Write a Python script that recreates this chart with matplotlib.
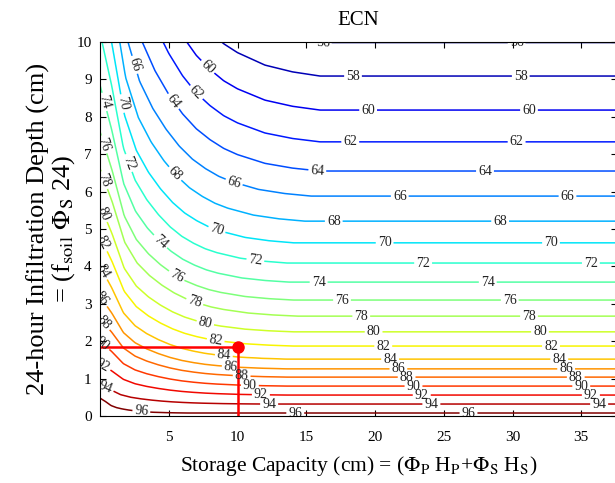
import numpy as np
import matplotlib
matplotlib.use('Agg')
import matplotlib.pyplot as plt

plt.rcParams['font.family'] = 'Liberation Serif'
plt.rcParams['mathtext.fontset'] = 'stix'

# one entry per contour (bottom to top)
ecn_levels = [98, 96, 94, 92, 90, 88, 86, 84, 82, 80, 78, 76, 74, 72, 70, 68, 66, 64, 62, 60, 58, 56, 54]
# height (cm) where the contour runs flat at large storage
flat_height = [-0.15, 0.08, 0.32, 0.56, 0.80, 1.04, 1.26, 1.52, 1.87, 2.25, 2.67, 3.10, 3.58,
               4.09, 4.63, 5.21, 5.88, 6.55, 7.33, 8.18, 9.09, 9.985, 11.0]
# height (cm) where the contour meets zero storage (above 10 = off the chart, estimated)
edge_height = [-0.10, 0.48, 0.82, 1.40, 2.00, 2.60, 3.20, 4.00, 4.80, 5.65, 6.62, 7.60, 8.85,
               10.25, 11.5, 12.9, 14.4, 16.3, 18.6, 20.8, 23.0, 25.3, 28.0]
# how quickly the contour levels off (1 = slowest, smaller = levels off sooner)
flatten_speed = [0.4, 0.4, 0.75, 0.85, 0.85, 0.85, 0.85, 0.85, 0.88, 0.88, 0.9, 0.88, 0.86,
                 0.85, 0.88, 0.93, 0.96, 1, 1, 1, 1, 1, 1]

# share of the rise still left at each storage capacity
storage_cols = [0, 1, 2, 3, 4, 5, 6, 7, 8, 9, 10, 12, 14, 16, 38]
rise_left = [1.0, 0.77, 0.50, 0.36, 0.275, 0.21, 0.157, 0.116, 0.086, 0.062, 0.045, 0.021, 0.008, 0.0, 0.0]

# design point
point_x = 10
point_y = 1.85

# build the ECN surface from the read tables, column by column
flat = np.array(flat_height)
edge = np.array(edge_height)
speed = np.array(flatten_speed)
xg = np.linspace(0, 37.6, 500)
yg = np.linspace(0, 10.6, 530)
H = flat[:, None] + (edge - flat)[:, None] * np.interp(xg[None, :] / speed[:, None], storage_cols, rise_left)
Z = np.empty((len(yg), len(xg)))
for j in range(len(xg)):
    Z[:, j] = np.interp(yg, H[:, j], ecn_levels)
X, Y = np.meshgrid(xg, yg)

fig = plt.figure(figsize=(6.15, 4.83), dpi=100)
ax = fig.add_axes([100 / 615, 67 / 483, 517 / 615, 374 / 483])

cs = ax.contour(X, Y, Z, levels=np.arange(56, 97, 2), cmap='jet', vmin=56, vmax=96, linewidths=1.1)

label_pts = [
    (16.2, 10.0), (30.3, 10.0),
    (18.4, 9.09), (30.6, 9.09),
    (7.9, 9.36), (19.5, 8.18), (31.2, 8.18),
    (7.06, 8.67), (18.2, 7.33), (30.3, 7.33),
    (5.47, 8.45), (15.8, 6.55), (28.0, 6.55),
    (2.6, 9.4), (9.73, 6.22), (21.8, 5.88), (34.0, 5.88),
    (5.6, 6.53), (17.0, 5.21), (29.1, 5.21),
    (1.7, 8.36), (8.6, 5.1), (20.7, 4.63), (32.8, 4.63),
    (2.07, 6.76), (11.3, 4.17), (23.5, 4.09), (35.7, 4.09),
    (0.34, 8.4), (4.38, 4.66), (15.9, 3.58), (28.2, 3.58),
    (0.2, 7.25), (5.6, 3.77), (17.6, 3.10), (29.8, 3.10),
    (0.34, 6.31), (6.93, 3.1), (19.0, 2.67), (31.2, 2.67),
    (0.34, 5.43), (7.66, 2.49), (19.9, 2.25), (32.0, 2.25),
    (0.34, 4.65), (8.4, 1.99), (20.6, 1.87), (32.8, 1.87),
    (0.34, 3.9), (9.0, 1.59), (21.1, 1.52), (33.4, 1.52),
    (0.2, 3.15), (9.5, 1.28), (21.7, 1.26), (33.9, 1.26),
    (0.3, 2.5), (10.3, 1.04), (22.3, 1.04), (34.6, 1.04),
    (0.2, 1.95), (10.9, 0.80), (22.8, 0.80), (35.0, 0.80),
    (0.2, 1.36), (11.7, 0.56), (23.4, 0.56), (35.7, 0.56),
    (0.4, 0.78), (12.3, 0.32), (24.1, 0.32), (36.3, 0.32),
    (3.0, 0.1), (14.2, 0.08), (26.8, 0.08),
]
labels = ax.clabel(cs, fmt='%d', manual=label_pts, inline=True, inline_spacing=2, fontsize=10, colors='#222222')
for t in labels:
    t.set_clip_on(True)
    t.set_clip_path(ax.patch)

ax.plot([0, point_x], [point_y, point_y], color='red', lw=1.8)
ax.plot([point_x, point_x], [0, point_y], color='red', lw=1.8)
ax.plot(point_x, point_y, 'o', color='red', ms=8)

ax.set_xlim(0, 37.6)
ax.set_ylim(0, 10)
ax.set_xticks([5, 10, 15, 20, 25, 30, 35])
ax.set_yticks(range(0, 11))
ax.tick_params(direction='in', top=True, right=True, length=4, labelsize=11)
ax.tick_params(axis='x', pad=11)
ax.tick_params(axis='y', pad=6)
ax.set_title('ECN', fontsize=15, pad=12)
ax.set_xlabel(r'Storage Capacity (cm) = ($\Phi_{\rm P}$ H$_{\rm P}$+$\Phi_{\rm S}$ H$_{\rm S}$)', fontsize=15.5, labelpad=7)
ax.set_ylabel('24-hour Infiltration Depth (cm)\n' + r'= (f$_{\rm soil}$ $\Phi_{\rm S}$ 24)', fontsize=19,
              linespacing=1.0)
ax.yaxis.set_label_coords(-0.045, 0.5)

fig.savefig('out.png', dpi=100)
